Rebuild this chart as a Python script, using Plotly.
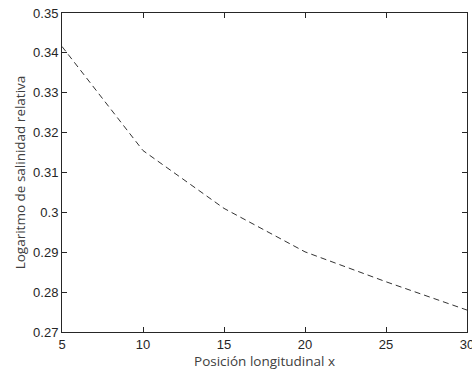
import plotly.graph_objects as go

x_pos = [5, 10, 15, 20, 25, 30]
log_sal = [0.3416, 0.3155, 0.3010, 0.2901, 0.2826, 0.2755]
x_ticks = [5, 10, 15, 20, 25, 30]
y_ticks = [0.27, 0.28, 0.29, 0.30, 0.31, 0.32, 0.33, 0.34, 0.35]
y_tick_text = ["0.27", "0.28", "0.29", "0.3", "0.31", "0.32", "0.33", "0.34", "0.35"]

fig = go.Figure()
fig.add_trace(go.Scatter(
    x=x_pos, y=log_sal, mode="lines",
    line=dict(color="#333333", width=1, dash="6px,4px"),
    showlegend=False,
))

axis_common = dict(
    showline=True, linecolor="#262626", linewidth=1, mirror="ticks",
    ticks="inside", ticklen=5, tickcolor="#262626", tickwidth=1,
    showgrid=False, zeroline=False, ticklabeloverflow="allow", automargin=False,
    tickfont=dict(family="Liberation Sans", size=13, color="#262626"),
)

fig.update_layout(
    width=472, height=372, autosize=False,
    margin=dict(l=62, r=5, t=13, b=40, pad=0),
    paper_bgcolor="white", plot_bgcolor="white",
    xaxis=dict(range=[5, 30], tickvals=x_ticks,
               title=dict(text="Posición longitudinal x", standoff=4,
                          font=dict(family="Open Sans", size=13.5, color="#404040")),
               **axis_common),
    yaxis=dict(range=[0.27, 0.35], tickvals=y_ticks, ticktext=y_tick_text,
               title=dict(text="Logaritmo de salinidad relativa", standoff=4,
                          font=dict(family="Open Sans", size=13.5, color="#404040")),
               **axis_common),
)

fig.write_html("out.html", config={"displayModeBar": False, "responsive": False},
               post_script="document.body.style.margin='0';document.body.style.overflow='hidden';")
